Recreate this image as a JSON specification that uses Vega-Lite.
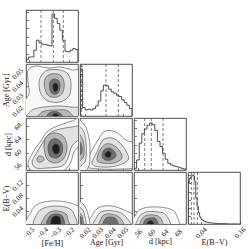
{
"$schema":"https://vega.github.io/schema/vega-lite/v6.json",
"padding":{"left":1,"top":9,"right":0,"bottom":0},
"columns":4,"spacing":2,"bounds":"flush",
"config":{
 "view":{"stroke":"#222","strokeWidth":0.8},
 "axis":{"domain":false,"grid":false,"tickColor":"#222","tickWidth":0.6,"tickSize":-2.5,"labelFont":"Liberation Serif","labelFontSize":7,"labelColor":"#111","titleFont":"Liberation Serif","titleFontSize":8,"titleFontWeight":"normal","titleColor":"#111","labelAngle":-45,"labelAlign":"center","labelBaseline":"middle","labelPadding":11,"titlePadding":0,"labelOverlap":false,"labelFlush":false}
},
"datasets":{
 "h_feh":[{"k":0,"x":-0.52,"n":0},{"k":1,"x":-0.52,"n":8},{"k":2,"x":-0.5005,"n":15},{"k":3,"x":-0.481,"n":15},{"k":4,"x":-0.4615,"n":35},{"k":5,"x":-0.442,"n":65},{"k":6,"x":-0.4225,"n":57},{"k":7,"x":-0.403,"n":53},{"k":8,"x":-0.3835,"n":52},{"k":9,"x":-0.364,"n":50},{"k":10,"x":-0.3445,"n":48},{"k":11,"x":-0.325,"n":143},{"k":12,"x":-0.3055,"n":130},{"k":13,"x":-0.286,"n":115},{"k":14,"x":-0.2665,"n":95},{"k":15,"x":-0.247,"n":65},{"k":16,"x":-0.2275,"n":32},{"k":17,"x":-0.208,"n":30},{"k":18,"x":-0.1885,"n":35},{"k":19,"x":-0.169,"n":40},{"k":20,"x":-0.1495,"n":37},{"k":21,"x":-0.13,"n":37},{"k":22,"x":-0.13,"n":0}],
 "h_age":[{"k":0,"x":0.016,"n":0},{"k":1,"x":0.016,"n":140},{"k":2,"x":0.01808,"n":25},{"k":3,"x":0.02016,"n":18},{"k":4,"x":0.02224,"n":20},{"k":5,"x":0.02432,"n":18},{"k":6,"x":0.0264,"n":22},{"k":7,"x":0.02848,"n":30},{"k":8,"x":0.03056,"n":45},{"k":9,"x":0.03264,"n":75},{"k":10,"x":0.03472,"n":92},{"k":11,"x":0.0368,"n":90},{"k":12,"x":0.03888,"n":80},{"k":13,"x":0.04096,"n":72},{"k":14,"x":0.04304,"n":68},{"k":15,"x":0.04512,"n":62},{"k":16,"x":0.0472,"n":58},{"k":17,"x":0.04928,"n":48},{"k":18,"x":0.05136,"n":40},{"k":19,"x":0.05344,"n":32},{"k":20,"x":0.05552,"n":22},{"k":21,"x":0.0576,"n":22},{"k":22,"x":0.0576,"n":0}],
 "h_d":[{"k":0,"x":54.8,"n":0},{"k":1,"x":54.8,"n":5},{"k":2,"x":55.58,"n":30},{"k":3,"x":56.36,"n":80},{"k":4,"x":57.14,"n":108},{"k":5,"x":57.92,"n":122},{"k":6,"x":58.7,"n":133},{"k":7,"x":59.48,"n":140},{"k":8,"x":60.26,"n":135},{"k":9,"x":61.04,"n":118},{"k":10,"x":61.82,"n":85},{"k":11,"x":62.6,"n":70},{"k":12,"x":63.38,"n":50},{"k":13,"x":64.16,"n":32},{"k":14,"x":64.94,"n":20},{"k":15,"x":65.72,"n":15},{"k":16,"x":66.5,"n":12},{"k":17,"x":67.28,"n":10},{"k":18,"x":68.06,"n":8},{"k":19,"x":68.84,"n":5},{"k":20,"x":69.62,"n":3},{"k":21,"x":70.4,"n":3},{"k":22,"x":70.4,"n":0}],
 "h_e":[{"k":0,"x":0,"n":0},{"k":1,"x":0,"n":128},{"k":2,"x":0.004,"n":140},{"k":3,"x":0.008,"n":145},{"k":4,"x":0.012,"n":150},{"k":5,"x":0.016,"n":148},{"k":6,"x":0.02,"n":132},{"k":7,"x":0.024,"n":80},{"k":8,"x":0.028,"n":55},{"k":9,"x":0.032,"n":35},{"k":10,"x":0.036,"n":22},{"k":11,"x":0.04,"n":15},{"k":12,"x":0.044,"n":12},{"k":13,"x":0.048,"n":9},{"k":14,"x":0.052,"n":7},{"k":15,"x":0.056,"n":6},{"k":16,"x":0.06,"n":5},{"k":17,"x":0.064,"n":4},{"k":18,"x":0.068,"n":4},{"k":19,"x":0.072,"n":3},{"k":20,"x":0.076,"n":3},{"k":21,"x":0.08,"n":2},{"k":22,"x":0.084,"n":2},{"k":23,"x":0.088,"n":2},{"k":24,"x":0.092,"n":1},{"k":25,"x":0.096,"n":1},{"k":26,"x":0.1,"n":1},{"k":27,"x":0.104,"n":1},{"k":28,"x":0.108,"n":1},{"k":29,"x":0.112,"n":1},{"k":30,"x":0.116,"n":1},{"k":31,"x":0.12,"n":0},{"k":32,"x":0.16,"n":0}],
 "q_feh":[{"x":-0.4075},{"x":-0.315},{"x":-0.24}],
 "q_age":[{"x":0.01736},{"x":0.0368},{"x":0.04664}],
 "q_d":[{"x":58.0},{"x":60.0},{"x":63.5}],
 "q_e":[{"x":0.0105},{"x":0.0185},{"x":0.029}],
 "cA":[
  {"p":"a1","lv":1,"i":0,"x":-0.505,"y":0.0528},{"p":"a1","lv":1,"i":1,"x":-0.445,"y":0.056},{"p":"a1","lv":1,"i":2,"x":-0.355,"y":0.0544},{"p":"a1","lv":1,"i":3,"x":-0.265,"y":0.0552},{"p":"a1","lv":1,"i":4,"x":-0.175,"y":0.0528},{"p":"a1","lv":1,"i":5,"x":-0.1075,"y":0.0496},{"p":"a1","lv":1,"i":6,"x":-0.1075,"y":0.0128},{"p":"a1","lv":1,"i":7,"x":-0.5425,"y":0.0128},{"p":"a1","lv":1,"i":8,"x":-0.5425,"y":0.0256},{"p":"a1","lv":1,"i":9,"x":-0.4975,"y":0.0336},{"p":"a1","lv":1,"i":10,"x":-0.505,"y":0.0432},
  {"p":"a2","lv":2,"i":0,"x":-0.4075,"y":0.048},{"p":"a2","lv":2,"i":1,"x":-0.355,"y":0.0528},{"p":"a2","lv":2,"i":2,"x":-0.265,"y":0.0528},{"p":"a2","lv":2,"i":3,"x":-0.205,"y":0.0496},{"p":"a2","lv":2,"i":4,"x":-0.1825,"y":0.0416},{"p":"a2","lv":2,"i":5,"x":-0.1975,"y":0.032},{"p":"a2","lv":2,"i":6,"x":-0.265,"y":0.0272},{"p":"a2","lv":2,"i":7,"x":-0.355,"y":0.028},{"p":"a2","lv":2,"i":8,"x":-0.4075,"y":0.0336},{"p":"a2","lv":2,"i":9,"x":-0.4225,"y":0.0416},
  {"p":"b2","lv":2,"i":0,"x":-0.505,"y":0.011},{"p":"b2","lv":2,"i":1,"x":-0.49,"y":0.0192},{"p":"b2","lv":2,"i":2,"x":-0.43,"y":0.0224},{"p":"b2","lv":2,"i":3,"x":-0.295,"y":0.024},{"p":"b2","lv":2,"i":4,"x":-0.1825,"y":0.0232},{"p":"b2","lv":2,"i":5,"x":-0.1,"y":0.0216},{"p":"b2","lv":2,"i":6,"x":-0.1,"y":0.011},
  {"p":"a3","lv":3,"i":0,"x":-0.3775,"y":0.0456},{"p":"a3","lv":3,"i":1,"x":-0.3325,"y":0.0496},{"p":"a3","lv":3,"i":2,"x":-0.265,"y":0.0488},{"p":"a3","lv":3,"i":3,"x":-0.235,"y":0.0432},{"p":"a3","lv":3,"i":4,"x":-0.2425,"y":0.0352},{"p":"a3","lv":3,"i":5,"x":-0.2875,"y":0.0312},{"p":"a3","lv":3,"i":6,"x":-0.3475,"y":0.032},{"p":"a3","lv":3,"i":7,"x":-0.3775,"y":0.0376},
  {"p":"b3","lv":3,"i":0,"x":-0.43,"y":0.011},{"p":"b3","lv":3,"i":1,"x":-0.4,"y":0.0192},{"p":"b3","lv":3,"i":2,"x":-0.295,"y":0.0208},{"p":"b3","lv":3,"i":3,"x":-0.205,"y":0.02},{"p":"b3","lv":3,"i":4,"x":-0.1675,"y":0.011},
  {"p":"a4","lv":4,"i":0,"x":-0.34,"y":0.0432},{"p":"a4","lv":4,"i":1,"x":-0.31,"y":0.0456},{"p":"a4","lv":4,"i":2,"x":-0.2725,"y":0.044},{"p":"a4","lv":4,"i":3,"x":-0.265,"y":0.0392},{"p":"a4","lv":4,"i":4,"x":-0.28,"y":0.0344},{"p":"a4","lv":4,"i":5,"x":-0.3175,"y":0.0336},{"p":"a4","lv":4,"i":6,"x":-0.34,"y":0.0368},
  {"p":"b4","lv":4,"i":0,"x":-0.37,"y":0.011},{"p":"b4","lv":4,"i":1,"x":-0.3475,"y":0.0184},{"p":"b4","lv":4,"i":2,"x":-0.2725,"y":0.0188},{"p":"b4","lv":4,"i":3,"x":-0.2275,"y":0.011},
  {"p":"a5","lv":5,"i":0,"x":-0.3175,"y":0.0408},{"p":"a5","lv":5,"i":1,"x":-0.295,"y":0.0424},{"p":"a5","lv":5,"i":2,"x":-0.28,"y":0.04},{"p":"a5","lv":5,"i":3,"x":-0.2875,"y":0.036},{"p":"a5","lv":5,"i":4,"x":-0.31,"y":0.036},
  {"p":"b5","lv":5,"i":0,"x":-0.3325,"y":0.011},{"p":"b5","lv":5,"i":1,"x":-0.3175,"y":0.0172},{"p":"b5","lv":5,"i":2,"x":-0.28,"y":0.0172},{"p":"b5","lv":5,"i":3,"x":-0.2575,"y":0.011}
 ],
 "cB":[
  {"p":"l1","lv":1,"i":0,"x":-0.505,"y":56.6},{"p":"l1","lv":1,"i":1,"x":-0.475,"y":59.6},{"p":"l1","lv":1,"i":2,"x":-0.415,"y":63.2},{"p":"l1","lv":1,"i":3,"x":-0.355,"y":66.5},{"p":"l1","lv":1,"i":4,"x":-0.265,"y":68.3},{"p":"l1","lv":1,"i":5,"x":-0.175,"y":69.5},{"p":"l1","lv":1,"i":6,"x":-0.1,"y":70.4},{"p":"l1","lv":1,"i":7,"x":-0.1,"y":63.8},{"p":"l1","lv":1,"i":8,"x":-0.16,"y":60.2},{"p":"l1","lv":1,"i":9,"x":-0.19,"y":56.6},{"p":"l1","lv":1,"i":10,"x":-0.25,"y":54.5},{"p":"l1","lv":1,"i":11,"x":-0.37,"y":54.5},{"p":"l1","lv":1,"i":12,"x":-0.475,"y":54.5},
  {"p":"l2","lv":2,"i":0,"x":-0.475,"y":57.2},{"p":"l2","lv":2,"i":1,"x":-0.445,"y":59.6},{"p":"l2","lv":2,"i":2,"x":-0.3925,"y":63.2},{"p":"l2","lv":2,"i":3,"x":-0.34,"y":65.9},{"p":"l2","lv":2,"i":4,"x":-0.265,"y":67.1},{"p":"l2","lv":2,"i":5,"x":-0.175,"y":67.7},{"p":"l2","lv":2,"i":6,"x":-0.1,"y":68.0},{"p":"l2","lv":2,"i":7,"x":-0.1,"y":65.0},{"p":"l2","lv":2,"i":8,"x":-0.175,"y":62.0},{"p":"l2","lv":2,"i":9,"x":-0.205,"y":58.4},{"p":"l2","lv":2,"i":10,"x":-0.25,"y":56.0},{"p":"l2","lv":2,"i":11,"x":-0.355,"y":55.4},{"p":"l2","lv":2,"i":12,"x":-0.445,"y":55.4},
  {"p":"m3","lv":3,"i":0,"x":-0.385,"y":62.0},{"p":"m3","lv":3,"i":1,"x":-0.37,"y":64.7},{"p":"m3","lv":3,"i":2,"x":-0.31,"y":65.9},{"p":"m3","lv":3,"i":3,"x":-0.2425,"y":65.0},{"p":"m3","lv":3,"i":4,"x":-0.2125,"y":62.0},{"p":"m3","lv":3,"i":5,"x":-0.235,"y":58.4},{"p":"m3","lv":3,"i":6,"x":-0.295,"y":56.9},{"p":"m3","lv":3,"i":7,"x":-0.3625,"y":58.1},
  {"p":"s3","lv":3,"i":0,"x":-0.4375,"y":58.1},{"p":"s3","lv":3,"i":1,"x":-0.4225,"y":59.0},{"p":"s3","lv":3,"i":2,"x":-0.3925,"y":58.7},{"p":"s3","lv":3,"i":3,"x":-0.385,"y":57.8},{"p":"s3","lv":3,"i":4,"x":-0.4075,"y":57.2},{"p":"s3","lv":3,"i":5,"x":-0.43,"y":57.2},
  {"p":"l4","lv":4,"i":0,"x":-0.355,"y":61.7},{"p":"l4","lv":4,"i":1,"x":-0.3325,"y":63.8},{"p":"l4","lv":4,"i":2,"x":-0.2875,"y":64.1},{"p":"l4","lv":4,"i":3,"x":-0.25,"y":62.6},{"p":"l4","lv":4,"i":4,"x":-0.25,"y":59.9},{"p":"l4","lv":4,"i":5,"x":-0.2875,"y":58.4},{"p":"l4","lv":4,"i":6,"x":-0.34,"y":59.0},
  {"p":"l5","lv":5,"i":0,"x":-0.325,"y":61.4},{"p":"l5","lv":5,"i":1,"x":-0.3025,"y":62.6},{"p":"l5","lv":5,"i":2,"x":-0.2725,"y":62.0},{"p":"l5","lv":5,"i":3,"x":-0.2725,"y":60.2},{"p":"l5","lv":5,"i":4,"x":-0.3025,"y":59.6}
 ],
 "cC":[
  {"p":"c1","lv":1,"i":0,"x":-0.4975,"y":-0.0093},{"p":"c1","lv":1,"i":1,"x":-0.4825,"y":0.0372},{"p":"c1","lv":1,"i":2,"x":-0.43,"y":0.062},{"p":"c1","lv":1,"i":3,"x":-0.3325,"y":0.0713},{"p":"c1","lv":1,"i":4,"x":-0.22,"y":0.0682},{"p":"c1","lv":1,"i":5,"x":-0.13,"y":0.0558},{"p":"c1","lv":1,"i":6,"x":-0.1,"y":0.0372},{"p":"c1","lv":1,"i":7,"x":-0.1,"y":-0.0093},
  {"p":"c2","lv":2,"i":0,"x":-0.445,"y":-0.0093},{"p":"c2","lv":2,"i":1,"x":-0.4375,"y":0.031},{"p":"c2","lv":2,"i":2,"x":-0.385,"y":0.0496},{"p":"c2","lv":2,"i":3,"x":-0.295,"y":0.0558},{"p":"c2","lv":2,"i":4,"x":-0.205,"y":0.0496},{"p":"c2","lv":2,"i":5,"x":-0.16,"y":0.031},{"p":"c2","lv":2,"i":6,"x":-0.16,"y":-0.0093},
  {"p":"c3","lv":3,"i":0,"x":-0.3925,"y":-0.0093},{"p":"c3","lv":3,"i":1,"x":-0.385,"y":0.0186},{"p":"c3","lv":3,"i":2,"x":-0.34,"y":0.0372},{"p":"c3","lv":3,"i":3,"x":-0.28,"y":0.0403},{"p":"c3","lv":3,"i":4,"x":-0.22,"y":0.031},{"p":"c3","lv":3,"i":5,"x":-0.205,"y":0.0124},{"p":"c3","lv":3,"i":6,"x":-0.205,"y":-0.0093},
  {"p":"c4","lv":4,"i":0,"x":-0.3625,"y":-0.0093},{"p":"c4","lv":4,"i":1,"x":-0.3475,"y":0.0217},{"p":"c4","lv":4,"i":2,"x":-0.3025,"y":0.031},{"p":"c4","lv":4,"i":3,"x":-0.2575,"y":0.0279},{"p":"c4","lv":4,"i":4,"x":-0.235,"y":0.0124},{"p":"c4","lv":4,"i":5,"x":-0.2425,"y":-0.0093},
  {"p":"c5","lv":5,"i":0,"x":-0.3325,"y":-0.0093},{"p":"c5","lv":5,"i":1,"x":-0.325,"y":0.0186},{"p":"c5","lv":5,"i":2,"x":-0.295,"y":0.0248},{"p":"c5","lv":5,"i":3,"x":-0.265,"y":0.0186},{"p":"c5","lv":5,"i":4,"x":-0.265,"y":-0.0093}
 ],
 "cD":[
  {"p":"m1","lv":1,"i":0,"x":0.02,"y":56.0},{"p":"m1","lv":1,"i":1,"x":0.024,"y":59.6},{"p":"m1","lv":1,"i":2,"x":0.0304,"y":63.8},{"p":"m1","lv":1,"i":3,"x":0.036,"y":66.5},{"p":"m1","lv":1,"i":4,"x":0.0448,"y":66.2},{"p":"m1","lv":1,"i":5,"x":0.0528,"y":63.8},{"p":"m1","lv":1,"i":6,"x":0.0608,"y":62.3},{"p":"m1","lv":1,"i":7,"x":0.0608,"y":56.0},{"p":"m1","lv":1,"i":8,"x":0.048,"y":55.1},{"p":"m1","lv":1,"i":9,"x":0.032,"y":55.1},
  {"p":"k1","lv":1,"i":0,"x":0.012,"y":68.9},{"p":"k1","lv":1,"i":1,"x":0.0192,"y":68.6},{"p":"k1","lv":1,"i":2,"x":0.0232,"y":64.4},{"p":"k1","lv":1,"i":3,"x":0.024,"y":59.9},{"p":"k1","lv":1,"i":4,"x":0.0224,"y":55.4},{"p":"k1","lv":1,"i":5,"x":0.012,"y":53.9},
  {"p":"m2","lv":2,"i":0,"x":0.0256,"y":56.6},{"p":"m2","lv":2,"i":1,"x":0.0296,"y":60.2},{"p":"m2","lv":2,"i":2,"x":0.0344,"y":63.8},{"p":"m2","lv":2,"i":3,"x":0.0416,"y":64.4},{"p":"m2","lv":2,"i":4,"x":0.048,"y":62.9},{"p":"m2","lv":2,"i":5,"x":0.0528,"y":60.5},{"p":"m2","lv":2,"i":6,"x":0.0544,"y":57.8},{"p":"m2","lv":2,"i":7,"x":0.0448,"y":56.0},{"p":"m2","lv":2,"i":8,"x":0.0336,"y":55.7},
  {"p":"k2","lv":2,"i":0,"x":0.012,"y":67.4},{"p":"k2","lv":2,"i":1,"x":0.0184,"y":66.8},{"p":"k2","lv":2,"i":2,"x":0.0208,"y":62.9},{"p":"k2","lv":2,"i":3,"x":0.0208,"y":58.4},{"p":"k2","lv":2,"i":4,"x":0.0184,"y":56.6},{"p":"k2","lv":2,"i":5,"x":0.012,"y":56.0},
  {"p":"m3","lv":3,"i":0,"x":0.0296,"y":57.8},{"p":"m3","lv":3,"i":1,"x":0.032,"y":60.8},{"p":"m3","lv":3,"i":2,"x":0.0368,"y":62.6},{"p":"m3","lv":3,"i":3,"x":0.0424,"y":62.3},{"p":"m3","lv":3,"i":4,"x":0.0472,"y":60.8},{"p":"m3","lv":3,"i":5,"x":0.0496,"y":58.4},{"p":"m3","lv":3,"i":6,"x":0.0432,"y":56.9},{"p":"m3","lv":3,"i":7,"x":0.0336,"y":56.9},
  {"p":"k3","lv":3,"i":0,"x":0.012,"y":65.6},{"p":"k3","lv":3,"i":1,"x":0.0168,"y":65.0},{"p":"k3","lv":3,"i":2,"x":0.0192,"y":62.0},{"p":"k3","lv":3,"i":3,"x":0.0184,"y":58.4},{"p":"k3","lv":3,"i":4,"x":0.012,"y":57.8},
  {"p":"m4","lv":4,"i":0,"x":0.0336,"y":59.0},{"p":"m4","lv":4,"i":1,"x":0.0352,"y":60.8},{"p":"m4","lv":4,"i":2,"x":0.0392,"y":61.4},{"p":"m4","lv":4,"i":3,"x":0.0432,"y":60.5},{"p":"m4","lv":4,"i":4,"x":0.0448,"y":59.0},{"p":"m4","lv":4,"i":5,"x":0.0408,"y":57.8},{"p":"m4","lv":4,"i":6,"x":0.036,"y":57.8},
  {"p":"k4","lv":4,"i":0,"x":0.012,"y":63.8},{"p":"k4","lv":4,"i":1,"x":0.016,"y":63.2},{"p":"k4","lv":4,"i":2,"x":0.0176,"y":61.4},{"p":"k4","lv":4,"i":3,"x":0.0168,"y":59.6},{"p":"k4","lv":4,"i":4,"x":0.012,"y":59.0},
  {"p":"m5","lv":5,"i":0,"x":0.036,"y":59.6},{"p":"m5","lv":5,"i":1,"x":0.0384,"y":60.5},{"p":"m5","lv":5,"i":2,"x":0.0408,"y":59.9},{"p":"m5","lv":5,"i":3,"x":0.04,"y":58.7},{"p":"m5","lv":5,"i":4,"x":0.0368,"y":58.7}
 ],
 "cE":[
  {"p":"e1","lv":1,"i":0,"x":0.024,"y":-0.0124},{"p":"e1","lv":1,"i":1,"x":0.0264,"y":0.031},{"p":"e1","lv":1,"i":2,"x":0.032,"y":0.0527},{"p":"e1","lv":1,"i":3,"x":0.0416,"y":0.0558},{"p":"e1","lv":1,"i":4,"x":0.0512,"y":0.0434},{"p":"e1","lv":1,"i":5,"x":0.0592,"y":0.0248},{"p":"e1","lv":1,"i":6,"x":0.0608,"y":-0.0124},
  {"p":"k1","lv":1,"i":0,"x":0.012,"y":0.0682},{"p":"k1","lv":1,"i":1,"x":0.0184,"y":0.062},{"p":"k1","lv":1,"i":2,"x":0.0224,"y":0.031},{"p":"k1","lv":1,"i":3,"x":0.0232,"y":-0.0124},{"p":"k1","lv":1,"i":4,"x":0.012,"y":-0.0124},
  {"p":"e2","lv":2,"i":0,"x":0.028,"y":-0.0124},{"p":"e2","lv":2,"i":1,"x":0.0304,"y":0.0279},{"p":"e2","lv":2,"i":2,"x":0.0352,"y":0.0403},{"p":"e2","lv":2,"i":3,"x":0.0432,"y":0.0403},{"p":"e2","lv":2,"i":4,"x":0.0512,"y":0.0279},{"p":"e2","lv":2,"i":5,"x":0.056,"y":-0.0124},
  {"p":"k2","lv":2,"i":0,"x":0.012,"y":0.0496},{"p":"k2","lv":2,"i":1,"x":0.0176,"y":0.0465},{"p":"k2","lv":2,"i":2,"x":0.02,"y":0.0217},{"p":"k2","lv":2,"i":3,"x":0.0208,"y":-0.0124},{"p":"k2","lv":2,"i":4,"x":0.012,"y":-0.0124},
  {"p":"e3","lv":3,"i":0,"x":0.032,"y":-0.0124},{"p":"e3","lv":3,"i":1,"x":0.0336,"y":0.0217},{"p":"e3","lv":3,"i":2,"x":0.0376,"y":0.031},{"p":"e3","lv":3,"i":3,"x":0.044,"y":0.0279},{"p":"e3","lv":3,"i":4,"x":0.0488,"y":0.0155},{"p":"e3","lv":3,"i":5,"x":0.0504,"y":-0.0124},
  {"p":"k3","lv":3,"i":0,"x":0.012,"y":0.0372},{"p":"k3","lv":3,"i":1,"x":0.0168,"y":0.031},{"p":"k3","lv":3,"i":2,"x":0.0184,"y":0.0124},{"p":"k3","lv":3,"i":3,"x":0.0192,"y":-0.0124},{"p":"k3","lv":3,"i":4,"x":0.012,"y":-0.0124},
  {"p":"e4","lv":4,"i":0,"x":0.0344,"y":-0.0124},{"p":"e4","lv":4,"i":1,"x":0.036,"y":0.0155},{"p":"e4","lv":4,"i":2,"x":0.04,"y":0.0217},{"p":"e4","lv":4,"i":3,"x":0.0448,"y":0.0155},{"p":"e4","lv":4,"i":4,"x":0.0464,"y":-0.0124},
  {"p":"k4","lv":4,"i":0,"x":0.012,"y":0.0248},{"p":"k4","lv":4,"i":1,"x":0.0168,"y":0.0217},{"p":"k4","lv":4,"i":2,"x":0.0176,"y":0.0062},{"p":"k4","lv":4,"i":3,"x":0.0176,"y":-0.0124},{"p":"k4","lv":4,"i":4,"x":0.012,"y":-0.0124}
 ],
 "cF":[
  {"p":"f1","lv":1,"i":0,"x":54.8,"y":-0.0124},{"p":"f1","lv":1,"i":1,"x":55.4,"y":0.031},{"p":"f1","lv":1,"i":2,"x":57.8,"y":0.0496},{"p":"f1","lv":1,"i":3,"x":62.0,"y":0.0527},{"p":"f1","lv":1,"i":4,"x":65.6,"y":0.0465},{"p":"f1","lv":1,"i":5,"x":67.4,"y":0.031},{"p":"f1","lv":1,"i":6,"x":67.4,"y":-0.0124},
  {"p":"f2","lv":2,"i":0,"x":56.0,"y":-0.0124},{"p":"f2","lv":2,"i":1,"x":56.3,"y":0.0217},{"p":"f2","lv":2,"i":2,"x":58.4,"y":0.0372},{"p":"f2","lv":2,"i":3,"x":62.0,"y":0.0372},{"p":"f2","lv":2,"i":4,"x":64.4,"y":0.0279},{"p":"f2","lv":2,"i":5,"x":65.3,"y":-0.0124},
  {"p":"f3","lv":3,"i":0,"x":56.9,"y":-0.0124},{"p":"f3","lv":3,"i":1,"x":57.2,"y":0.0155},{"p":"f3","lv":3,"i":2,"x":59.0,"y":0.0279},{"p":"f3","lv":3,"i":3,"x":62.0,"y":0.0248},{"p":"f3","lv":3,"i":4,"x":63.2,"y":0.0093},{"p":"f3","lv":3,"i":5,"x":63.2,"y":-0.0124},
  {"p":"f4","lv":4,"i":0,"x":57.8,"y":-0.0124},{"p":"f4","lv":4,"i":1,"x":58.1,"y":0.0124},{"p":"f4","lv":4,"i":2,"x":59.6,"y":0.0186},{"p":"f4","lv":4,"i":3,"x":61.4,"y":0.0155},{"p":"f4","lv":4,"i":4,"x":62.0,"y":-0.0124},
  {"p":"f5","lv":5,"i":0,"x":58.4,"y":-0.0124},{"p":"f5","lv":5,"i":1,"x":59.0,"y":0.0062},{"p":"f5","lv":5,"i":2,"x":60.2,"y":0.0093},{"p":"f5","lv":5,"i":3,"x":61.1,"y":-0.0124}
 ]
},
"concat":[
 {"width":52,"height":52,"data":{"name":"h_feh"},"layer":[
  {"mark":{"type":"line","interpolate":"step-after","color":"#222","strokeWidth":0.8,"clip":true},
   "encoding":{"x":{"field":"x","type":"quantitative","scale":{"domain":[-0.52,-0.13],"nice":false,"zero":false},"axis":{"values":[-0.5,-0.4,-0.3,-0.2],"labels":false,"title":null}},
    "y":{"field":"n","type":"quantitative","scale":{"domain":[0,155],"nice":false},"axis":{"values":[25,50,75,100,125,150],"labels":false,"title":null}},
    "order":{"field":"k"}}},
  {"data":{"name":"q_feh"},"mark":{"type":"rule","color":"#444","strokeDash":[3,2],"strokeWidth":0.7},"encoding":{"x":{"field":"x","type":"quantitative"}}}]},
 {"width":52,"height":52,"data":{"values":[]},"mark":"point","view":{"stroke":null}},
 {"width":52,"height":52,"data":{"values":[]},"mark":"point","view":{"stroke":null}},
 {"width":52,"height":52,"data":{"values":[]},"mark":"point","view":{"stroke":null}},

 {"width":52,"height":52,"data":{"name":"cA"},
  "mark":{"type":"line","interpolate":"cardinal-closed","stroke":"#444","strokeWidth":0.6,"clip":true},
  "encoding":{"x":{"field":"x","type":"quantitative","scale":{"domain":[-0.52,-0.13],"nice":false,"zero":false},"axis":{"values":[-0.5,-0.4,-0.3,-0.2],"labels":false,"title":null}},
   "y":{"field":"y","type":"quantitative","scale":{"domain":[0.016,0.0576],"nice":false,"zero":false},"axis":{"values":[0.02,0.03,0.04,0.05],"format":".2f","title":"Age [Gyr]"}},
   "detail":{"field":"p"},"order":{"field":"i"},
   "fill":{"field":"lv","type":"ordinal","scale":{"domain":[1,2,3,4,5],"range":["#f8f8f8","#e2e2e2","#b8b8b8","#6e6e6e","#1e1e1e"]},"legend":null}}},
 {"width":52,"height":52,"data":{"name":"h_age"},"layer":[
  {"mark":{"type":"line","interpolate":"step-after","color":"#222","strokeWidth":0.8,"clip":true},
   "encoding":{"x":{"field":"x","type":"quantitative","scale":{"domain":[0.016,0.0576],"nice":false,"zero":false},"axis":{"values":[0.02,0.03,0.04,0.05],"labels":false,"title":null}},
    "y":{"field":"n","type":"quantitative","scale":{"domain":[0,155],"nice":false},"axis":{"values":[25,50,75,100,125,150],"labels":false,"title":null}},
    "order":{"field":"k"}}},
  {"data":{"name":"q_age"},"mark":{"type":"rule","color":"#444","strokeDash":[3,2],"strokeWidth":0.7},"encoding":{"x":{"field":"x","type":"quantitative"}}}]},
 {"width":52,"height":52,"data":{"values":[]},"mark":"point","view":{"stroke":null}},
 {"width":52,"height":52,"data":{"values":[]},"mark":"point","view":{"stroke":null}},

 {"width":52,"height":52,"data":{"name":"cB"},
  "mark":{"type":"line","interpolate":"cardinal-closed","stroke":"#444","strokeWidth":0.6,"clip":true},
  "encoding":{"x":{"field":"x","type":"quantitative","scale":{"domain":[-0.52,-0.13],"nice":false,"zero":false},"axis":{"values":[-0.5,-0.4,-0.3,-0.2],"labels":false,"title":null}},
   "y":{"field":"y","type":"quantitative","scale":{"domain":[54.8,70.4],"nice":false,"zero":false},"axis":{"values":[56,60,64,68],"format":"d","title":"d [kpc]"}},
   "detail":{"field":"p"},"order":{"field":"i"},
   "fill":{"field":"lv","type":"ordinal","scale":{"domain":[1,2,3,4,5],"range":["#f8f8f8","#e2e2e2","#b8b8b8","#6e6e6e","#1e1e1e"]},"legend":null}}},
 {"width":52,"height":52,"data":{"name":"cD"},
  "mark":{"type":"line","interpolate":"cardinal-closed","stroke":"#444","strokeWidth":0.6,"clip":true},
  "encoding":{"x":{"field":"x","type":"quantitative","scale":{"domain":[0.016,0.0576],"nice":false,"zero":false},"axis":{"values":[0.02,0.03,0.04,0.05],"labels":false,"title":null}},
   "y":{"field":"y","type":"quantitative","scale":{"domain":[54.8,70.4],"nice":false,"zero":false},"axis":{"values":[56,60,64,68],"labels":false,"title":null}},
   "detail":{"field":"p"},"order":{"field":"i"},
   "fill":{"field":"lv","type":"ordinal","scale":{"domain":[1,2,3,4,5],"range":["#f8f8f8","#e2e2e2","#b8b8b8","#6e6e6e","#1e1e1e"]},"legend":null}}},
 {"width":52,"height":52,"data":{"name":"h_d"},"layer":[
  {"mark":{"type":"line","interpolate":"step-after","color":"#222","strokeWidth":0.8,"clip":true},
   "encoding":{"x":{"field":"x","type":"quantitative","scale":{"domain":[54.8,70.4],"nice":false,"zero":false},"axis":{"values":[56,60,64,68],"labels":false,"title":null}},
    "y":{"field":"n","type":"quantitative","scale":{"domain":[0,155],"nice":false},"axis":{"values":[25,50,75,100,125,150],"labels":false,"title":null}},
    "order":{"field":"k"}}},
  {"data":{"name":"q_d"},"mark":{"type":"rule","color":"#444","strokeDash":[3,2],"strokeWidth":0.7},"encoding":{"x":{"field":"x","type":"quantitative"}}}]},
 {"width":52,"height":52,"data":{"values":[]},"mark":"point","view":{"stroke":null}},

 {"width":52,"height":52,"data":{"name":"cC"},
  "mark":{"type":"line","interpolate":"cardinal-closed","stroke":"#444","strokeWidth":0.6,"clip":true},
  "encoding":{"x":{"field":"x","type":"quantitative","scale":{"domain":[-0.52,-0.13],"nice":false,"zero":false},"axis":{"values":[-0.5,-0.4,-0.3,-0.2],"format":".1f","title":"[Fe/H]"}},
   "y":{"field":"y","type":"quantitative","scale":{"domain":[0,0.1612],"nice":false,"zero":false},"axis":{"values":[0.04,0.08,0.12],"format":".2f","title":"E(B−V)"}},
   "detail":{"field":"p"},"order":{"field":"i"},
   "fill":{"field":"lv","type":"ordinal","scale":{"domain":[1,2,3,4,5],"range":["#f8f8f8","#e2e2e2","#b8b8b8","#6e6e6e","#1e1e1e"]},"legend":null}}},
 {"width":52,"height":52,"data":{"name":"cE"},
  "mark":{"type":"line","interpolate":"cardinal-closed","stroke":"#444","strokeWidth":0.6,"clip":true},
  "encoding":{"x":{"field":"x","type":"quantitative","scale":{"domain":[0.016,0.0576],"nice":false,"zero":false},"axis":{"values":[0.02,0.03,0.04,0.05],"format":".2f","title":"Age [Gyr]"}},
   "y":{"field":"y","type":"quantitative","scale":{"domain":[0,0.1612],"nice":false,"zero":false},"axis":{"values":[0.04,0.08,0.12],"labels":false,"title":null}},
   "detail":{"field":"p"},"order":{"field":"i"},
   "fill":{"field":"lv","type":"ordinal","scale":{"domain":[1,2,3,4,5],"range":["#f8f8f8","#e2e2e2","#b8b8b8","#6e6e6e","#1e1e1e"]},"legend":null}}},
 {"width":52,"height":52,"data":{"name":"cF"},
  "mark":{"type":"line","interpolate":"cardinal-closed","stroke":"#444","strokeWidth":0.6,"clip":true},
  "encoding":{"x":{"field":"x","type":"quantitative","scale":{"domain":[54.8,70.4],"nice":false,"zero":false},"axis":{"values":[56,60,64,68],"format":"d","title":"d [kpc]"}},
   "y":{"field":"y","type":"quantitative","scale":{"domain":[0,0.1612],"nice":false,"zero":false},"axis":{"values":[0.04,0.08,0.12],"labels":false,"title":null}},
   "detail":{"field":"p"},"order":{"field":"i"},
   "fill":{"field":"lv","type":"ordinal","scale":{"domain":[1,2,3,4,5],"range":["#f8f8f8","#e2e2e2","#b8b8b8","#6e6e6e","#1e1e1e"]},"legend":null}}},
 {"width":52,"height":52,"data":{"name":"h_e"},"layer":[
  {"mark":{"type":"line","interpolate":"step-after","color":"#222","strokeWidth":0.8,"clip":true},
   "encoding":{"x":{"field":"x","type":"quantitative","scale":{"domain":[0,0.1612],"nice":false,"zero":false},"axis":{"values":[0.04,0.08,0.12,0.16],"format":".2f","title":"E(B−V)"}},
    "y":{"field":"n","type":"quantitative","scale":{"domain":[0,160],"nice":false},"axis":{"values":[25,50,75,100,125,150],"labels":false,"title":null}},
    "order":{"field":"k"}}},
  {"data":{"name":"q_e"},"mark":{"type":"rule","color":"#444","strokeDash":[3,2],"strokeWidth":0.7},"encoding":{"x":{"field":"x","type":"quantitative"}}}]}
]
}
